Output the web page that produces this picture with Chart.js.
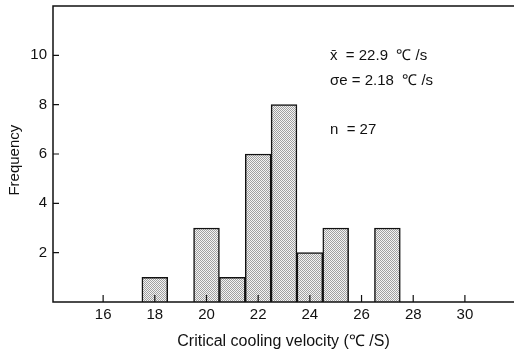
<!DOCTYPE html>
<html>
<head>
<meta charset="utf-8">
<script src="https://cdn.jsdelivr.net/npm/chart.js@4/dist/chart.umd.min.js"></script>
<style>
  body { margin: 0; background: #fff; }
  #wrap { width: 514px; height: 351px; }
</style>
</head>
<body>
<div id="wrap"><canvas id="histChart" width="514" height="351"></canvas></div>
<script>
// histogram bins (centre of each 1 C/s class) and counts
const binCentres = [18, 20, 21, 22, 23, 24, 25, 27];
const counts = [1, 3, 1, 6, 8, 2, 3, 3];
const xTicks = [16, 18, 20, 22, 24, 26, 28, 30];
const yTicks = [2, 4, 6, 8, 10];
const statsLines = ['x\u0304  = 22.9  \u2103 /s', '\u03c3e = 2.18  \u2103 /s', 'n  = 27'];

const FONT = '"Liberation Sans", Arial, sans-serif';

// stippled fill like the printed figure
function makeStipple() {
    const c = document.createElement('canvas');
    c.width = 2; c.height = 2;
    const g = c.getContext('2d');
    g.fillStyle = '#f4f4f4';
    g.fillRect(0, 0, 2, 2);
    g.fillStyle = '#a0a0a0';
    g.fillRect(0, 0, 1, 1);
    g.fillRect(1, 1, 1, 1);
    return document.getElementById('histChart').getContext('2d').createPattern(c, 'repeat');
}

// frame (top/left/bottom), inward tick marks, y title and the stats text
const framePlugin = {
    id: 'frame',
    afterDatasetsDraw(chart) {
        const { ctx, chartArea: a, scales } = chart;
        ctx.save();
        ctx.strokeStyle = '#111';
        ctx.lineWidth = 1.5;
        ctx.beginPath();
        ctx.moveTo(a.right, a.top);
        ctx.lineTo(a.left, a.top);
        ctx.lineTo(a.left, a.bottom);
        ctx.lineTo(a.right, a.bottom);
        ctx.stroke();

        ctx.lineWidth = 1.2;
        ctx.beginPath();
        xTicks.forEach(v => {
            const px = scales.x.getPixelForValue(v);
            ctx.moveTo(px, a.bottom);
            ctx.lineTo(px, a.bottom - 7);
        });
        yTicks.forEach(v => {
            const py = scales.y.getPixelForValue(v);
            ctx.moveTo(a.left, py);
            ctx.lineTo(a.left + 6, py);
        });
        ctx.stroke();

        ctx.fillStyle = '#111';
        ctx.font = '15px ' + FONT;
        ctx.textBaseline = 'middle';
        const tx = scales.x.getPixelForValue(24.78);
        [9.98, 8.98, 6.98].forEach((yv, i) => {
            ctx.fillText(statsLines[i], tx, scales.y.getPixelForValue(yv));
        });

        // y axis title, sitting a little below the middle as in the print
        ctx.translate(15, scales.y.getPixelForValue(5.75));
        ctx.rotate(-Math.PI / 2);
        ctx.textAlign = 'center';
        ctx.fillText('Frequency', 0, 0);
        ctx.restore();
    }
};

new Chart(document.getElementById('histChart'), {
    type: 'bar',
    data: {
        datasets: [{
            data: binCentres.map((x, i) => ({ x: x, y: counts[i] })),
            backgroundColor: makeStipple(),
            borderColor: '#111',
            borderWidth: 1.5,
            barPercentage: 1,
            categoryPercentage: 1
        }]
    },
    options: {
        responsive: false,
        animation: false,
        layout: { padding: { top: 6, right: 0, left: 0, bottom: 0 } },
        plugins: { legend: { display: false }, tooltip: { enabled: false } },
        scales: {
            x: {
                type: 'linear',
                offset: false,
                min: 14.06,
                max: 31.9,
                grid: { display: false, drawTicks: false },
                border: { display: false },
                afterBuildTicks: s => { s.ticks = xTicks.map(v => ({ value: v })); },
                ticks: { color: '#111', font: { family: FONT, size: 15 }, padding: 4, maxRotation: 0 },
                title: {
                    display: true,
                    text: 'Critical cooling velocity (\u2103 /S)',
                    color: '#111',
                    font: { family: FONT, size: 16 },
                    padding: { top: 3, bottom: 0 }
                },
                afterFit: s => { s.height = 49; s.paddingLeft = 0; s.paddingRight = 0; }
            },
            y: {
                min: 0,
                max: 12,
                grid: { display: false, drawTicks: false },
                border: { display: false },
                afterBuildTicks: s => { s.ticks = yTicks.map(v => ({ value: v })); },
                ticks: { color: '#111', font: { family: FONT, size: 15 }, padding: 6 },
                afterFit: s => { s.width = 53; s.paddingTop = 0; s.paddingBottom = 0; }
            }
        }
    },
    plugins: [framePlugin]
});
</script>
</body>
</html>
